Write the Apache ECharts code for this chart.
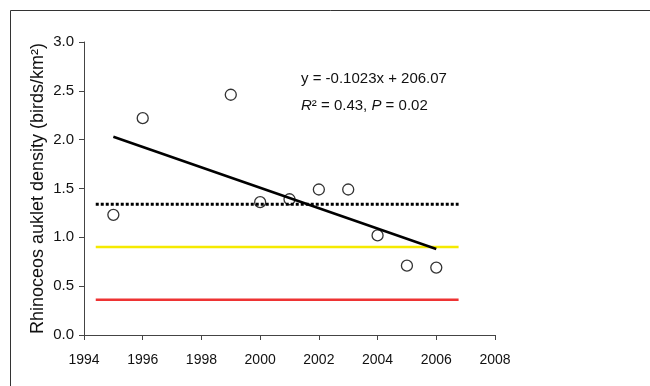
<!DOCTYPE html>
<html>
<head>
<meta charset="utf-8">
<script src="https://cdn.jsdelivr.net/npm/echarts@6/dist/echarts.min.js"></script>
<style>
	html, body { margin: 0; padding: 0; background: #fff; }
	#chart { width: 650px; height: 386px; }
</style>
</head>
<body>
<div id="chart"></div>
<script>
// survey years and densities (birds/km2)
var years = [1995, 1996, 1999, 2000, 2001, 2002, 2003, 2004, 2005, 2006];
var density = [1.23, 2.22, 2.46, 1.36, 1.39, 1.49, 1.49, 1.02, 0.71, 0.69];
// fitted trend, drawn between first and last year
var trendX = [1995, 2006];
var trendY = [2.03, 0.88];
// reference levels
var lineX = [1994.4, 2006.76];
var meanLevel = 1.34;
var yellowLevel = 0.90;
var redLevel = 0.36;
var xTicks = [1994, 1996, 1998, 2000, 2002, 2004, 2006, 2008];
var yTicks = [0, 0.5, 1.0, 1.5, 2.0, 2.5, 3.0];

var font = "Liberation Sans, Arial, sans-serif";

function hline(level) {
	return lineX.map(function (x) { return [x, level]; });
}

var chart = echarts.init(document.getElementById("chart"));
chart.setOption({
	animation: false,
	grid: { left: 84, top: 42, right: 155, bottom: 51 },
	xAxis: {
		type: "value",
		min: xTicks[0],
		max: xTicks[xTicks.length - 1],
		interval: 2,
		splitLine: { show: false },
		axisLine: { lineStyle: { color: "#444", width: 1 } },
		axisTick: { length: 5, lineStyle: { color: "#444" } },
		axisLabel: {
			color: "#111", fontSize: 14, fontFamily: font, margin: 18,
			formatter: function (v) { return String(v); }
		}
	},
	yAxis: {
		type: "value",
		min: yTicks[0],
		max: yTicks[yTicks.length - 1],
		interval: 0.5,
		splitLine: { show: false },
		axisLine: { show: true, lineStyle: { color: "#444", width: 1 } },
		axisTick: { show: true, length: 5, lineStyle: { color: "#444" } },
		axisLabel: {
			color: "#111", fontSize: 15, fontFamily: font, margin: 10,
			formatter: function (v) { return v.toFixed(1); }
		},
		name: "Rhinoceos auklet density (birds/km²)",
		nameLocation: "middle",
		nameGap: 37,
		nameMoveOverlap: false,
		nameTextStyle: { color: "#111", fontSize: 18, fontFamily: font }
	},
	graphic: [
		{
			type: "rect",
			shape: { x: 10.5, y: 10.5, width: 800, height: 500 },
			style: { fill: "none", stroke: "#333", lineWidth: 1 },
			silent: true
		},
		{
			type: "text",
			left: 301, top: 65,
			style: {
				text: "y = -0.1023x + 206.07\n{i|R}² = 0.43, {i|P} = 0.02",
				fill: "#111", fontSize: 15, fontFamily: font, lineHeight: 27,
				rich: {
					i: { fontStyle: "italic", fontSize: 15, fontFamily: font, fill: "#111" }
				}
			}
		}
	],
	series: [
		{
			type: "scatter",
			data: years.map(function (y, i) { return [y, density[i]]; }),
			symbol: "circle",
			symbolSize: 11,
			itemStyle: { color: "rgba(255,255,255,0)", borderColor: "#000", borderWidth: 1.3 },
			z: 2
		},
		{
			type: "line",
			data: trendX.map(function (x, i) { return [x, trendY[i]]; }),
			showSymbol: false,
			lineStyle: { color: "#000", width: 2.5 },
			z: 4
		},
		{
			type: "line",
			data: hline(meanLevel),
			showSymbol: false,
			lineStyle: { color: "#000", width: 3, type: [3, 2] },
			z: 3
		},
		{
			type: "line",
			data: hline(yellowLevel),
			showSymbol: false,
			lineStyle: { color: "#f5ea00", width: 2.5 },
			z: 3
		},
		{
			type: "line",
			data: hline(redLevel),
			showSymbol: false,
			lineStyle: { color: "#ee3333", width: 2.5 },
			z: 3
		}
	]
});
</script>
</body>
</html>
